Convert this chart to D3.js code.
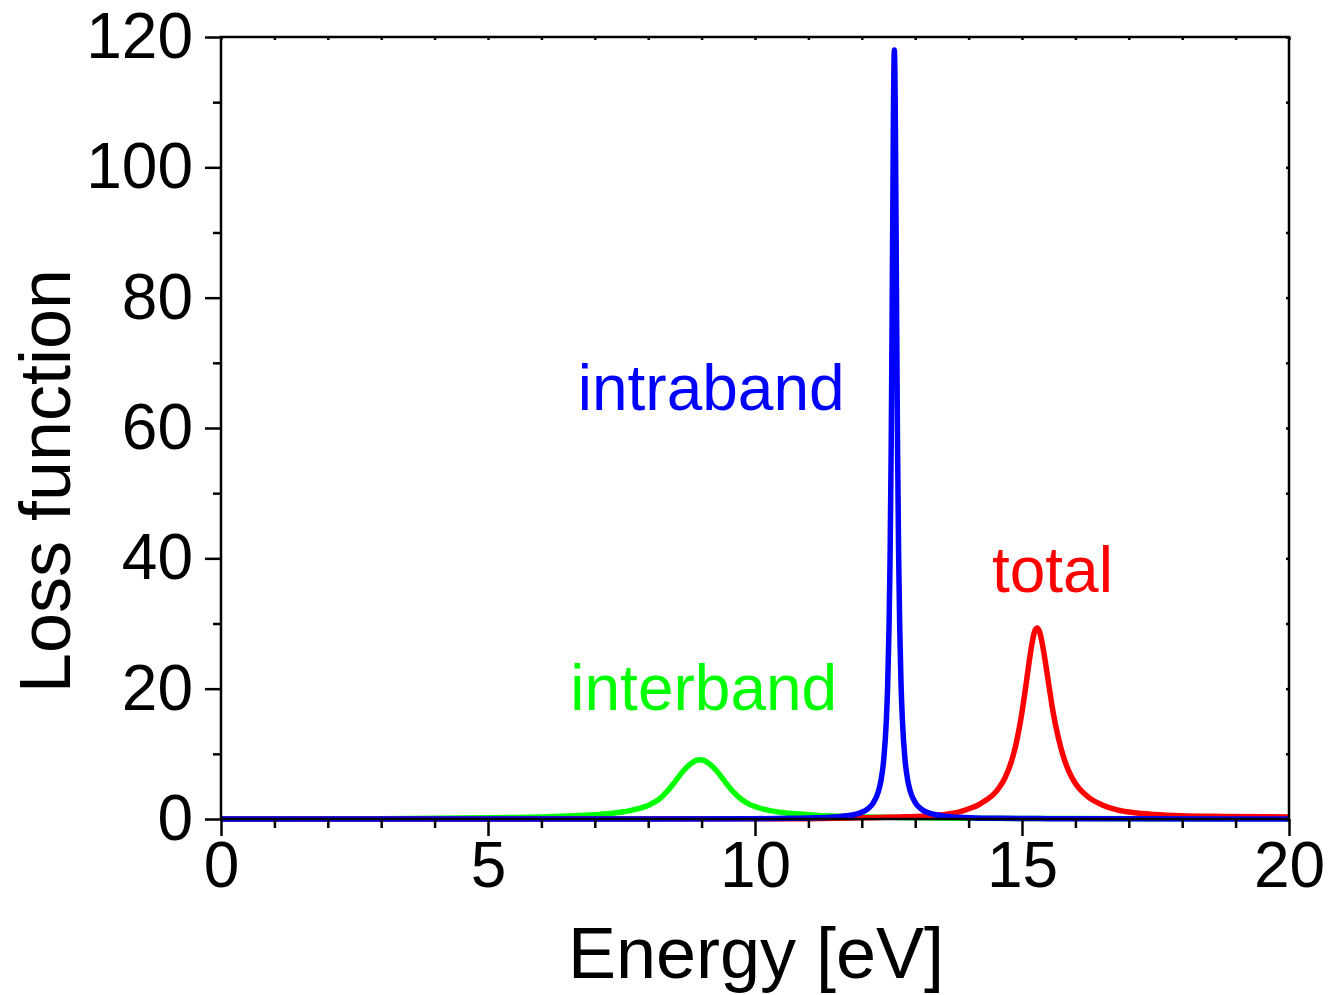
<!DOCTYPE html>
<html>
<head>
<meta charset="utf-8">
<script src="https://cdn.jsdelivr.net/npm/d3@7"></script>
<style>
  body { margin: 0; background: #fff; }
  svg text { font-family: "Liberation Sans", Arial, sans-serif; }
</style>
</head>
<body>
<div id="chart"></div>
<script>
// energy [eV] / loss function values
var intrabandE = [0, 8, 10, 11, 11.6, 11.87, 12.11, 12.21, 12.31, 12.36, 12.41, 12.46, 12.485, 12.51, 12.53, 12.55, 12.57, 12.59, 12.61,
                  12.63, 12.65, 12.67, 12.69, 12.71, 12.735, 12.76, 12.81, 12.86, 12.91, 13.01, 13.11, 13.36, 13.61, 14.11, 14.61, 15.5, 17, 20];
var intrabandV = [0, 0.01, 0.05, 0.15, 0.4, 0.69, 1.55, 2.4, 4.2, 5.95, 9.05, 15.2, 20.7, 29.4, 40.4, 56.7, 79.9, 105.5, 118,
                  105.5, 79.9, 56.7, 40.4, 29.4, 20.7, 15.2, 9.05, 5.95, 4.2, 2.4, 1.55, 0.69, 0.39, 0.17, 0.1, 0.05, 0.02, 0];

var interbandE = [0, 2, 3, 4, 5, 5.5, 6, 6.5, 7, 7.4, 7.72, 8.03, 8.2, 8.35, 8.5, 8.66, 8.8, 8.9, 8.97,
                  9.04, 9.14, 9.28, 9.44, 9.59, 9.75, 9.91, 10.22, 10.5, 10.84, 11.2, 11.6, 12, 12.5, 13, 14, 15, 16, 18, 20];
var interbandV = [0, 0.02, 0.05, 0.1, 0.18, 0.24, 0.32, 0.45, 0.65, 0.95, 1.4, 2.2, 3.0, 4.2, 5.7, 7.4, 8.5, 9.0, 9.1,
                  9.0, 8.5, 7.4, 5.7, 4.2, 3.0, 2.2, 1.4, 1.0, 0.75, 0.55, 0.42, 0.32, 0.25, 0.2, 0.13, 0.09, 0.06, 0.03, 0.02];

var totalE = [0, 5, 10, 11, 11.5, 12, 12.8, 13.28, 13.58, 13.83, 14.08, 14.18, 14.28, 14.38, 14.48, 14.58, 14.68, 14.78, 14.88, 14.98,
              15.03, 15.08, 15.13, 15.18, 15.23, 15.28,
              15.33, 15.38, 15.43, 15.48, 15.53, 15.58, 15.68, 15.78, 15.88, 15.98, 16.08, 16.18, 16.28, 16.48, 16.78, 17.08,
              17.48, 17.98, 18.78, 20];
var totalV = [0, 0, 0.02, 0.05, 0.1, 0.2, 0.33, 0.5, 0.75, 1.1, 1.8, 2.15, 2.65, 3.2, 3.9, 4.9, 6.3, 8.3, 11.2, 15.4,
              18.0, 20.9, 23.9, 26.6, 28.6, 29.3,
              28.7, 26.9, 24.5, 21.8, 19.1, 16.5, 12.5, 9.45, 7.26, 5.72, 4.6, 3.8, 3.13, 2.24, 1.41, 0.99,
              0.69, 0.5, 0.4, 0.3];

var xTicks = [0, 5, 10, 15, 20];
var yTicks = [0, 20, 40, 60, 80, 100, 120];

var series = [
    {name: "interband", color: "#00ff00", E: interbandE, V: interbandV, lx: 9.04, ly: 16.8},
    {name: "total", color: "#ff0000", E: totalE, V: totalV, lx: 15.57, ly: 34.9},
    {name: "intraband", color: "#0000ff", E: intrabandE, V: intrabandV, lx: 9.18, ly: 62.7}
];

var margin = {top: 37, right: 41, bottom: 176, left: 221},
    totalWidth = 1330, totalHeight = 995,
    width = totalWidth - margin.left - margin.right,
    height = totalHeight - margin.top - margin.bottom;

var svg = d3.select("#chart").append("svg")
    .attr("width", totalWidth)
    .attr("height", totalHeight);

var g = svg.append("g")
    .attr("transform", "translate(" + margin.left + "," + margin.top + ")");

var x = d3.scaleLinear().domain([0, 20]).range([0, width]);
var y = d3.scaleLinear().domain([0, 120]).range([height, 0]);

// curves
var line = d3.line()
    .x(d => x(d[0]))
    .y(d => y(d[1]))
    .curve(d3.curveMonotoneX);

series.forEach(function (s) {
    g.append("path")
        .datum(s.E.map((e, i) => [e, s.V[i]]))
        .attr("fill", "none")
        .attr("stroke", s.color)
        .attr("stroke-width", 5.5)
        .attr("stroke-linejoin", "round")
        .attr("d", line);
});

// frame
g.append("rect")
    .attr("width", width).attr("height", height)
    .attr("fill", "none").attr("stroke", "#000").attr("stroke-width", 2.5);

// bottom axis: outward ticks
var xAxis = d3.axisBottom(x).tickValues(xTicks).tickSize(17).tickPadding(6).tickFormat(d3.format("d"));
var xMinor = d3.range(0, 21, 1).filter(v => v % 5 !== 0);
g.append("g").attr("transform", "translate(0," + height + ")").call(xAxis);
g.append("g").attr("transform", "translate(0," + height + ")")
    .call(d3.axisBottom(x).tickValues(xMinor).tickSize(9).tickFormat(""));

// left axis: outward ticks
var yAxis = d3.axisLeft(y).tickValues(yTicks).tickSize(16).tickPadding(12).tickFormat(d3.format("d"));
var yMinor = d3.range(10, 120, 20);
g.append("g").call(yAxis);
g.append("g").call(d3.axisLeft(y).tickValues(yMinor).tickSize(8).tickFormat(""));

// top and right axes: tiny mirror ticks
g.append("g").call(d3.axisTop(x).tickValues(d3.range(0, 21, 1)).tickSize(-3).tickFormat(""));
g.append("g").attr("transform", "translate(" + width + ",0)")
    .call(d3.axisRight(y).tickValues(d3.range(0, 121, 10)).tickSize(-3).tickFormat(""));

g.selectAll(".domain").remove();
g.selectAll(".tick line").attr("stroke", "#000").attr("stroke-width", 2.5);
g.selectAll(".tick text").attr("fill", "#000").style("font-size", "64px");

// series labels
g.selectAll(".seriesLabel").data(series).enter().append("text")
    .attr("class", "seriesLabel")
    .attr("x", d => x(d.lx))
    .attr("y", d => y(d.ly))
    .attr("text-anchor", "middle")
    .attr("fill", d => d.color)
    .style("font-size", "64px")
    .text(d => d.name);

// axis titles
svg.append("text")
    .attr("x", 756)
    .attr("y", 978)
    .attr("text-anchor", "middle")
    .style("font-size", "72px")
    .text("Energy [eV]");

svg.append("text")
    .attr("transform", "translate(70," + 481 + ") rotate(-90)")
    .attr("text-anchor", "middle")
    .style("font-size", "72px")
    .text("Loss function");
</script>
</body>
</html>
